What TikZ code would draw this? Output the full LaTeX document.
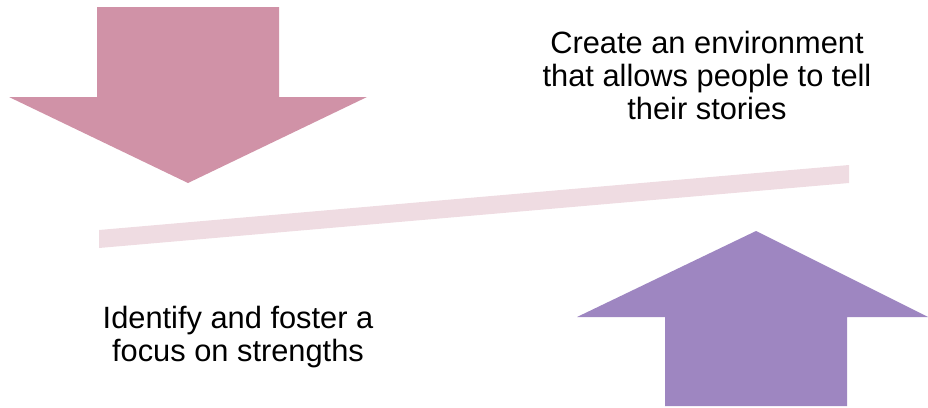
\documentclass[tikz,border=0pt]{standalone}
\usepackage{fontspec}
\setmainfont{Liberation Sans}
\definecolor{rosefill}{HTML}{D092A7}
\definecolor{lilacfill}{HTML}{9E86C1}
\definecolor{barfill}{HTML}{EFDCE2}
\begin{document}
\begin{tikzpicture}[x=1pt,y=-1pt,
  caption/.style={align=center,inner sep=0pt,anchor=base,
    font=\fontsize{30.8}{32.8}\selectfont}]
\useasboundingbox (0,0) rectangle (928,407);
% downward block arrow
\fill[rosefill] (97,7) -- (279,7) -- (279,97) -- (367,97) -- (188,183)
  -- (9,97) -- (97,97) -- cycle;
% upward block arrow
\fill[lilacfill] (665,406) -- (665,317) -- (577,317) -- (756,231)
  -- (928,317) -- (847,317) -- (847,406) -- cycle;
% slanted bar between the two
\fill[barfill] (99,230) -- (849,165) -- (849,183) -- (99,248) -- cycle;
% captions, anchored on the baseline of their last line
\node[caption] (top) at (707,119) {Create an environment\\that allows people to tell\\their stories};
\node[caption] (bottom) at (238,361) {Identify and foster a\\focus on strengths};
\end{tikzpicture}
\end{document}
